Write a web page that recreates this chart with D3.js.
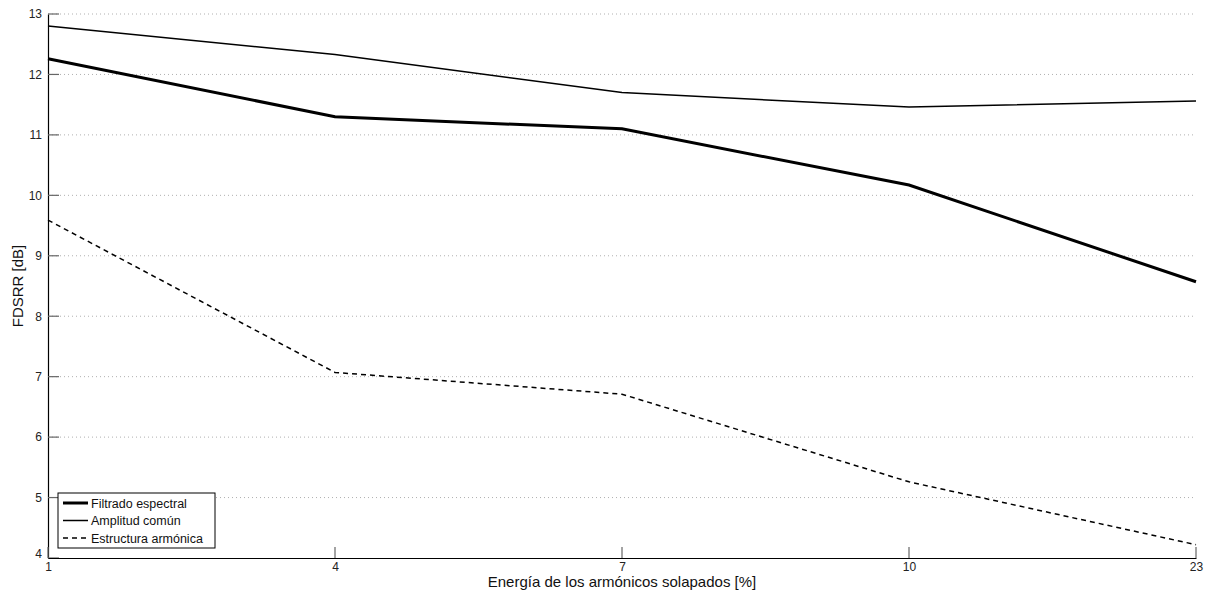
<html>
<head>
<meta charset="utf-8">
<script src="https://d3js.org/d3.v7.min.js"></script>
<style>
  body { margin: 0; background: #fff; }
  text { font-family: "Liberation Sans", Arial, sans-serif; }
</style>
</head>
<body>
<div id="chart"></div>
<script>
// categories on x axis (evenly spaced)
var energia = ["1", "4", "7", "10", "23"];
// series values
var filtradoEspectral = [12.26, 11.30, 11.10, 10.17, 8.57];
var amplitudComun = [12.80, 12.33, 11.70, 11.46, 11.56];
var estructuraArmonica = [9.59, 7.07, 6.71, 5.26, 4.22];
var yTicks = [4, 5, 6, 7, 8, 9, 10, 11, 12, 13];

var series = [
  { name: "Filtrado espectral", values: filtradoEspectral, width: 3, dash: null },
  { name: "Amplitud común", values: amplitudComun, width: 1.5, dash: null },
  { name: "Estructura armónica", values: estructuraArmonica, width: 1.5, dash: "5,4" }
];

var W = 1213, H = 594;
var margin = { top: 14, right: 17, bottom: 36, left: 48 };
var width = W - margin.left - margin.right;
var height = H - margin.top - margin.bottom;

var svg = d3.select("#chart").append("svg")
  .attr("width", W).attr("height", H);
var g = svg.append("g")
  .attr("transform", "translate(" + margin.left + "," + margin.top + ")");

var x = d3.scalePoint().domain(energia).range([0, width]);
var y = d3.scaleLinear().domain([4, 13]).range([height, 0]);

// horizontal dotted grid
g.selectAll(".grid").data(yTicks.slice(1)).enter().append("line")
  .attr("x1", 0).attr("x2", width)
  .attr("y1", function(d) { return y(d); })
  .attr("y2", function(d) { return y(d); })
  .attr("stroke", "#b0b0b0")
  .attr("stroke-width", 1)
  .attr("stroke-dasharray", "1,3");

// y axis (ticks inside)
var yAxis = g.append("g")
  .call(d3.axisLeft(y).tickValues(yTicks).tickSize(0).tickPadding(6).tickFormat(d3.format("d")));
yAxis.select(".domain").attr("stroke", "#000").attr("stroke-width", 1.2);
yAxis.selectAll("text").attr("font-size", 12).attr("fill", "#222");
yAxis.selectAll(".tick").filter(function(d) { return d == 4; })
  .select("text").attr("dy", "-0.05em");
g.selectAll(".ytick").data(yTicks).enter().append("line")
  .attr("x1", 0).attr("x2", 11)
  .attr("y1", function(d) { return y(d); })
  .attr("y2", function(d) { return y(d); })
  .attr("stroke", "#666").attr("stroke-width", 1.2);

// x axis (ticks inside)
var xAxis = g.append("g")
  .attr("transform", "translate(0," + height + ")")
  .call(d3.axisBottom(x).tickSize(0).tickPadding(4));
xAxis.select(".domain").attr("stroke", "#000").attr("stroke-width", 1.2);
xAxis.selectAll("text").attr("font-size", 12).attr("fill", "#222");
g.selectAll(".xtick").data(energia).enter().append("line")
  .attr("x1", function(d) { return x(d); })
  .attr("x2", function(d) { return x(d); })
  .attr("y1", height).attr("y2", height - 11)
  .attr("stroke", "#666").attr("stroke-width", 1.2);

// lines
var line = d3.line()
  .x(function(d, i) { return x(energia[i]); })
  .y(function(d) { return y(d); });

series.forEach(function(s) {
  g.append("path")
    .attr("d", line(s.values))
    .attr("fill", "none")
    .attr("stroke", "#000")
    .attr("stroke-width", s.width)
    .attr("stroke-dasharray", s.dash);
});

// axis labels
svg.append("text")
  .attr("x", margin.left + width / 2).attr("y", 587)
  .attr("text-anchor", "middle").attr("font-size", 15).attr("fill", "#111")
  .text("Energía de los armónicos solapados [%]");
svg.append("text")
  .attr("transform", "translate(23," + (margin.top + height / 2) + ") rotate(-90)")
  .attr("text-anchor", "middle").attr("font-size", 15).attr("fill", "#111")
  .text("FDSRR [dB]");

// legend
var leg = svg.append("g").attr("transform", "translate(58,493)");
leg.append("rect")
  .attr("width", 157).attr("height", 55)
  .attr("fill", "#fff").attr("stroke", "#000").attr("stroke-width", 1);
series.forEach(function(s, i) {
  var ly = 10 + i * 17.5;
  leg.append("line")
    .attr("x1", 5).attr("x2", 30).attr("y1", ly).attr("y2", ly)
    .attr("stroke", "#000").attr("stroke-width", s.width)
    .attr("stroke-dasharray", s.dash);
  leg.append("text")
    .attr("x", 33).attr("y", ly + 4.5)
    .attr("font-size", 12.5).attr("fill", "#111")
    .text(s.name);
});
</script>
</body>
</html>
